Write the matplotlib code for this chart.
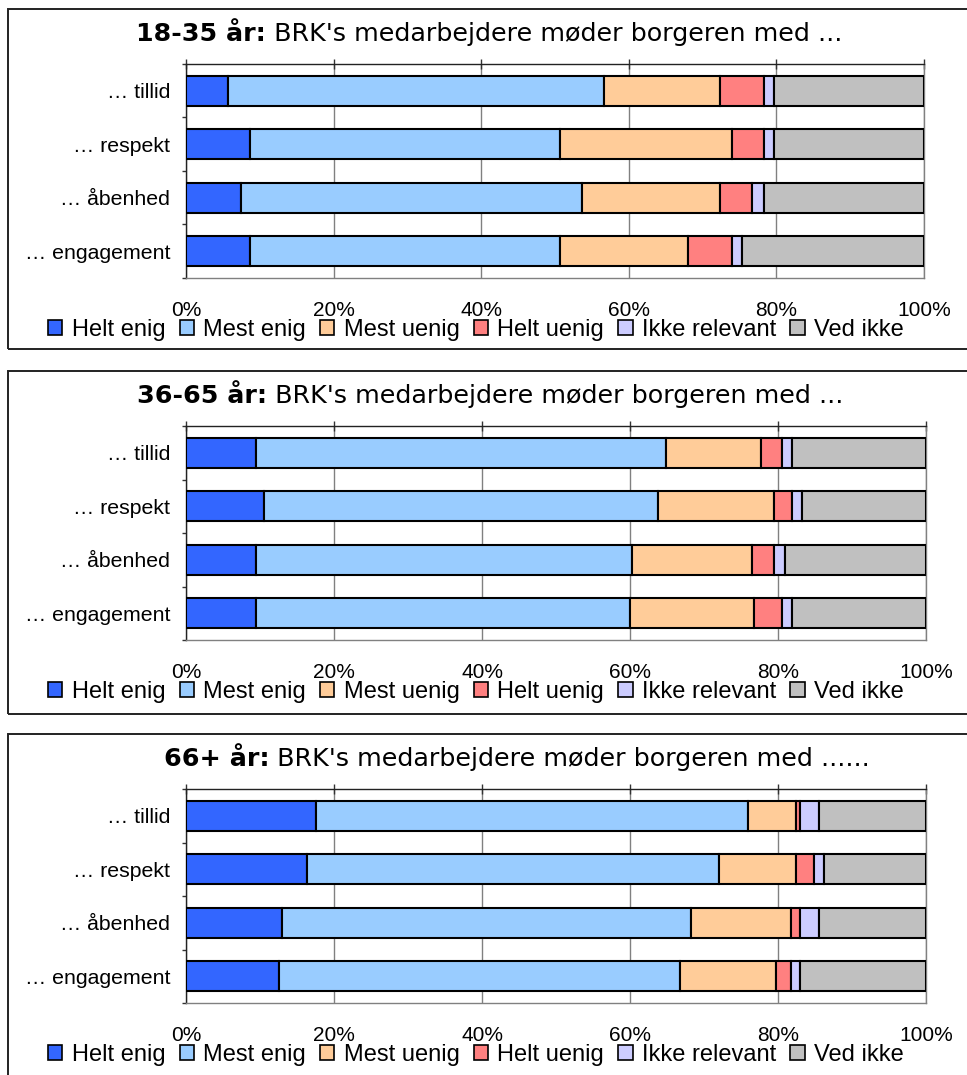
import numpy as np
import matplotlib
matplotlib.use("Agg")
import matplotlib.pyplot as plt
from matplotlib.patches import Patch, Rectangle
from matplotlib.ticker import FixedLocator, FuncFormatter

W, H, DPI = 967, 1075, 100

plt.rcParams['font.family'] = ['Liberation Sans', 'DejaVu Sans']

# Data (percent of answers per statement)
categories = ["… tillid", "… respekt", "… åbenhed", "… engagement"]
responses = ["Helt enig", "Mest enig", "Mest uenig", "Helt uenig", "Ikke relevant", "Ved ikke"]
colors = ["#3366FF", "#99CCFF", "#FFCC99", "#FF8080", "#CCCCFF", "#C0C0C0"]

title_bold = ["18-35 år:", "36-65 år:", "66+ år:"]
title_rest = [" BRK's medarbejdere møder borgeren med ...",
              " BRK's medarbejdere møder borgeren med ...",
              " BRK's medarbejdere møder borgeren med ......"]

age_18_35 = [[5.7, 51.0, 15.7, 5.9, 1.4, 20.3],
             [8.7, 42.0, 23.3, 4.3, 1.4, 20.3],
             [7.4, 46.2, 18.8, 4.3, 1.6, 21.7],
             [8.7, 42.0, 17.3, 6.0, 1.4, 24.6]]
age_36_65 = [[9.5, 55.4, 12.8, 2.9, 1.3, 18.1],
             [10.6, 53.2, 15.7, 2.4, 1.4, 16.7],
             [9.5, 50.8, 16.2, 3.0, 1.4, 19.1],
             [9.5, 50.5, 16.8, 3.8, 1.3, 18.1]]
age_66 = [[17.6, 58.4, 6.4, 0.6, 2.6, 14.4],
          [16.3, 55.7, 10.4, 2.5, 1.3, 13.8],
          [13.0, 55.2, 13.5, 1.3, 2.6, 14.4],
          [12.5, 54.3, 12.9, 2.0, 1.3, 17.0]]
groups = [age_18_35, age_36_65, age_66]

# layout in pixels
panel_top = [9, 371, 734]
panel_bot = [349, 714, 1090]
ax_right = [924, 926, 926]
title_cx = [489, 490, 517]

fig = plt.figure(figsize=(W / DPI, H / DPI), dpi=DPI)
renderer = fig.canvas.get_renderer()


def fx(x):
    return x / W


def fy(y):
    return 1 - y / H


for k, data in enumerate(groups):
    top = panel_top[k]
    # panel frame
    fig.add_artist(Rectangle((fx(8), fy(panel_bot[k])), fx(980 - 8), (panel_bot[k] - top) / H,
                             transform=fig.transFigure, fill=False, ec='#222222', lw=1.4))

    ax = fig.add_axes([fx(186), fy(top + 269), fx(ax_right[k] - 186), 214 / H])
    vals = np.array(data)
    y = np.arange(len(categories))
    left = np.zeros(len(categories))
    for j in range(len(responses)):
        ax.barh(y, vals[:, j], left=left, height=0.56, color=colors[j],
                edgecolor='black', linewidth=1.5, zorder=3)
        left += vals[:, j]

    ax.set_xlim(0, 100)
    ax.set_ylim(3.5, -0.5)
    ax.set_xticks([0, 20, 40, 60, 80, 100])
    ax.xaxis.set_major_formatter(FuncFormatter(lambda v, p: f"{v:.0f}%"))
    ax.xaxis.grid(True, color='#808080', lw=1, zorder=0)
    ax.set_axisbelow(True)
    ax.tick_params(axis='x', bottom=False, top=True, labelbottom=True, labeltop=False,
                   direction='inout', length=7, width=1, color='#333333', pad=13, labelsize=15)
    ax.set_yticks(y)
    ax.set_yticklabels(categories)
    ax.yaxis.set_minor_locator(FixedLocator(np.arange(-0.5, 4.0, 1.0)))
    ax.tick_params(axis='y', which='major', length=0, pad=11.5, labelsize=15.3)
    ax.tick_params(axis='y', which='minor', length=3, width=1, direction='out', color='#333333')
    for s in ['left', 'top']:
        ax.spines[s].set_color('#222222')
        ax.spines[s].set_linewidth(1)
    for s in ['bottom', 'right']:
        ax.spines[s].set_color('#808080')
        ax.spines[s].set_linewidth(1)

    # title: bold age group + normal text, centred as one line
    t1 = fig.text(0, fy(top + 32), title_bold[k], fontsize=18.3, fontweight='bold',
                  family='DejaVu Sans', va='baseline', ha='left')
    t2 = fig.text(0, fy(top + 32), title_rest[k], fontsize=18.3,
                  family='DejaVu Sans', va='baseline', ha='left')
    w1 = t1.get_window_extent(renderer).width
    w2 = t2.get_window_extent(renderer).width
    x0 = title_cx[k] - (w1 + w2) / 2
    t1.set_x(fx(x0))
    t2.set_x(fx(x0 + w1))

    handles = [Patch(facecolor=c, edgecolor='black', lw=1.2) for c in colors]
    ax.legend(handles, responses, loc='center', bbox_to_anchor=(fx(476), fy(top + 321)),
              bbox_transform=fig.transFigure, ncol=6, frameon=False, fontsize=17,
              handlelength=0.6, handleheight=0.6, handletextpad=0.4,
              columnspacing=0.6, borderpad=0, borderaxespad=0)

fig.savefig("out.png", dpi=DPI)
